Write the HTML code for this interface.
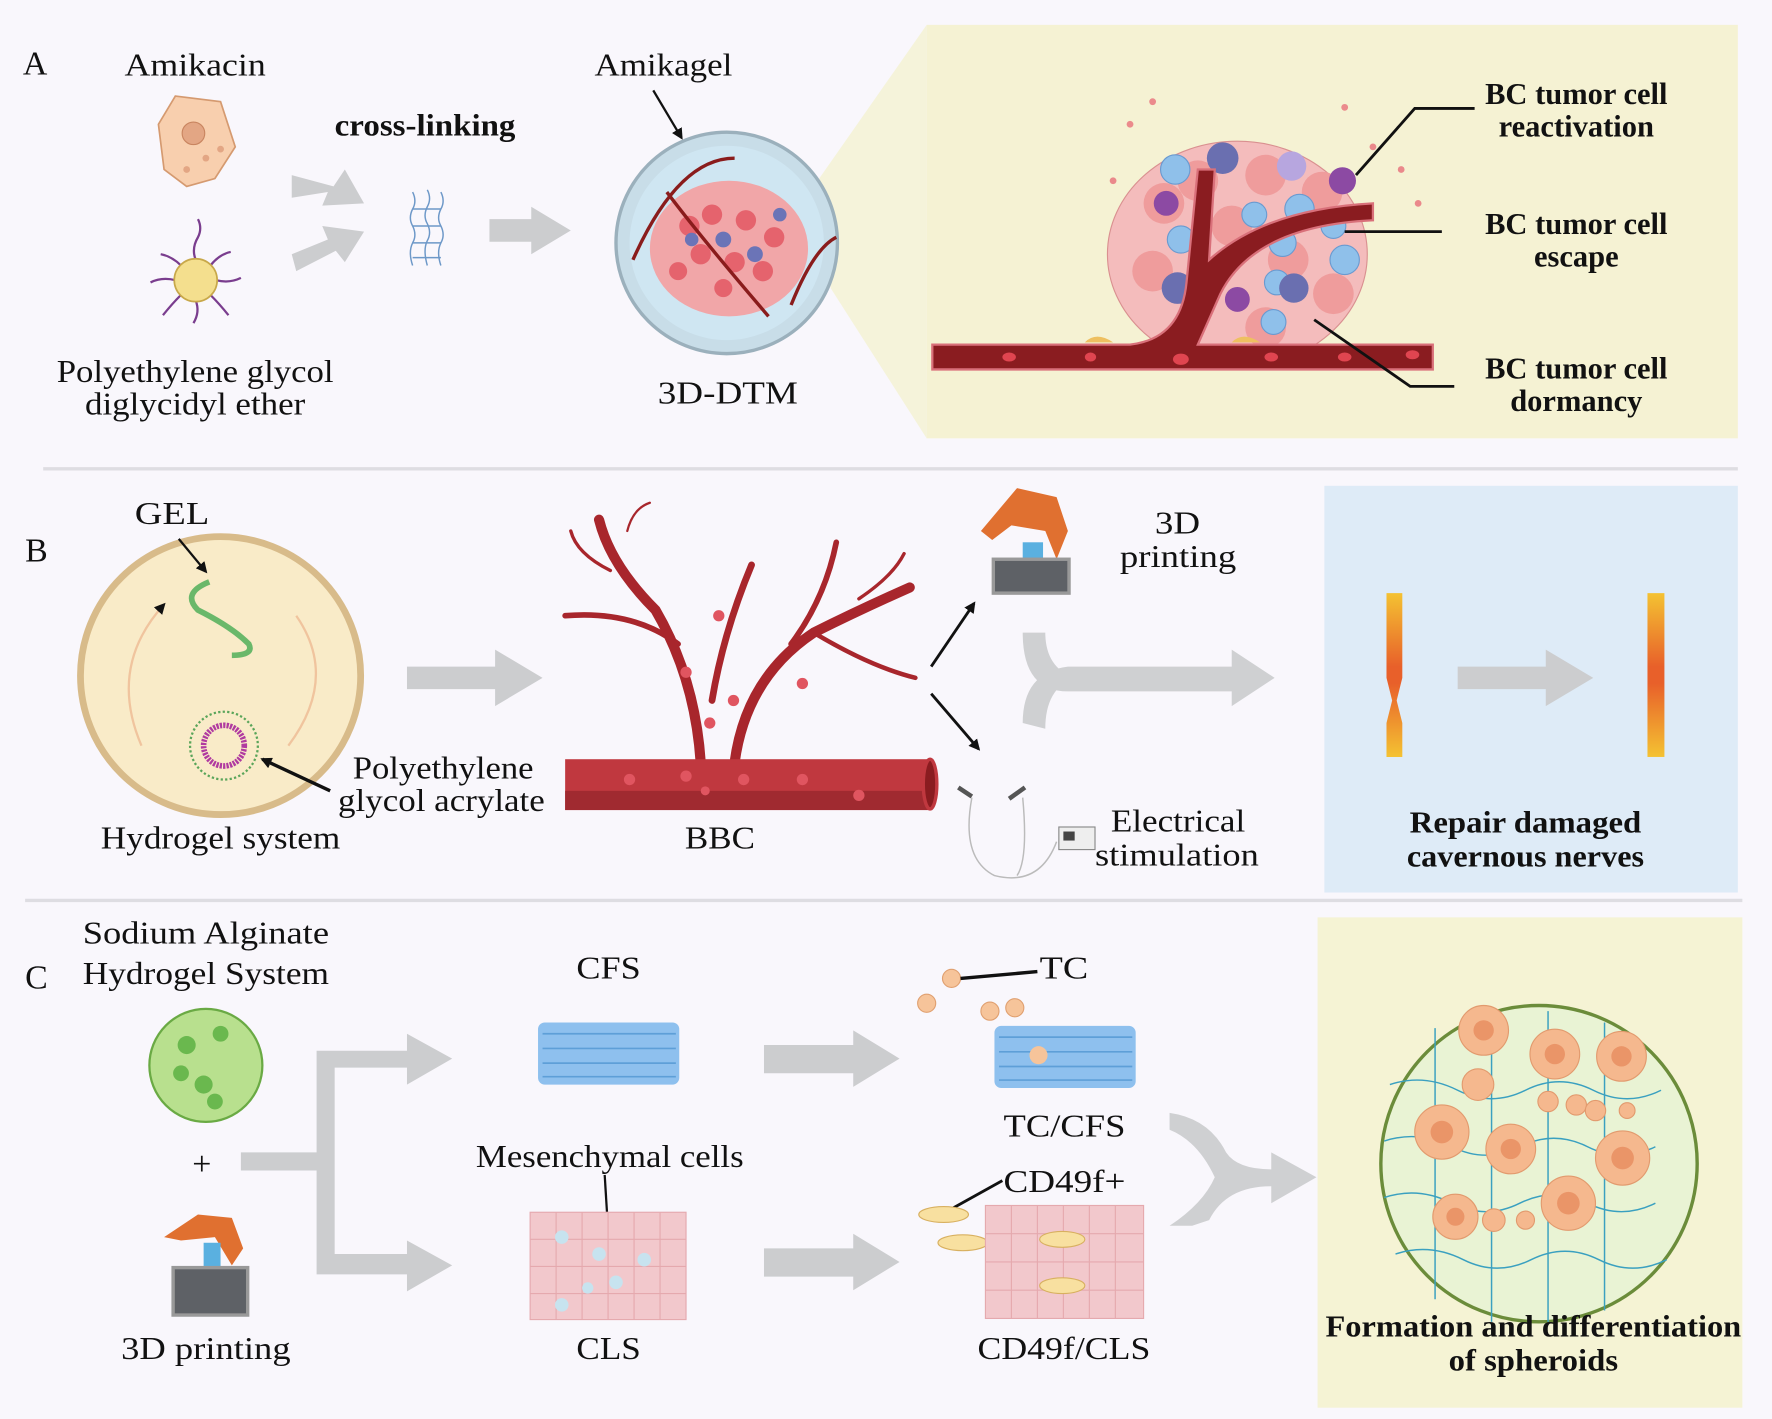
<!DOCTYPE html>
<html><head><meta charset="utf-8"><style>
html,body{margin:0;padding:0;background:#f9f7fc;}
svg{display:block}
text{font-family:"Liberation Serif",serif;fill:#111}
.b{font-weight:bold}
</style></head><body>
<svg width="1772" height="1419" viewBox="0 0 1568 1256" xmlns="http://www.w3.org/2000/svg">
<defs>
<marker id="ah" markerWidth="10" markerHeight="10" refX="8" refY="5" orient="auto" markerUnits="userSpaceOnUse"><path d="M0,0 L10,5 L0,10 z" fill="#111"/></marker>
<linearGradient id="nv1" x1="0" y1="0" x2="0" y2="1"><stop offset="0" stop-color="#f4c232"/><stop offset="0.45" stop-color="#e8602a"/><stop offset="0.55" stop-color="#e8602a"/><stop offset="1" stop-color="#f4c232"/></linearGradient>
</defs>
<rect width="1568" height="1256" fill="#f9f7fc"/>
<!-- Panel A yellow -->
<polygon points="720,165 820,22 820,388 735,255" fill="#f5f3da"/>
<rect x="820" y="22" width="718" height="366" fill="#f5f2d3"/>
<line x1="38" y1="415" x2="1538" y2="415" stroke="#dedde2" stroke-width="3"/>
<line x1="22" y1="797" x2="1542" y2="797" stroke="#dedde2" stroke-width="3"/>
<rect x="1172" y="430" width="366" height="360" fill="#deebf7"/>
<rect x="1166" y="812" width="376" height="434" fill="#f5f3d4"/>

<!-- A -->
<text x="20" y="66" font-size="30">A</text>
<text x="110" y="67" font-size="28" textLength="125" lengthAdjust="spacingAndGlyphs">Amikacin</text>
<path d="M155,85 L195,90 L208,130 L190,158 L165,165 L145,150 L140,110 Z" fill="#f8cfae" stroke="#d59a70" stroke-width="1.5"/>
<circle cx="171" cy="118" r="10" fill="#e3a684" stroke="#c98560"/>
<circle cx="182" cy="140" r="3" fill="#e3a684"/><circle cx="165" cy="150" r="3" fill="#e3a684"/><circle cx="195" cy="132" r="3" fill="#e3a684"/>
<g stroke="#7a3d8e" stroke-width="2" fill="none">
<path d="M173,230 q-4,-10 2,-20 q4,-8 0,-16"/><path d="M173,266 q4,10 -2,20"/><path d="M155,248 q-12,-3 -22,2"/><path d="M191,248 q12,3 22,-2"/>
<path d="M160,235 q-8,-8 -18,-10"/><path d="M186,235 q8,-10 18,-12"/><path d="M160,261 q-8,8 -16,18"/><path d="M186,261 q8,8 16,18"/>
</g>
<circle cx="173" cy="248" r="19" fill="#f4df8e" stroke="#c8a84a" stroke-width="1.5"/>
<text x="50" y="338" font-size="28" textLength="245" lengthAdjust="spacingAndGlyphs">Polyethylene glycol</text>
<text x="75" y="367" font-size="28" textLength="195" lengthAdjust="spacingAndGlyphs">diglycidyl ether</text>
<text x="296" y="120" font-size="27" class="b" textLength="160" lengthAdjust="spacingAndGlyphs">cross-linking</text>
<polygon points="258,155 295,165 305,150 322,180 285,182 290,170 258,175" fill="#cccdcf"/>
<polygon points="258,225 290,212 285,200 322,205 305,232 297,222 262,240" fill="#cccdcf"/>
<g stroke="#6d98c8" stroke-width="1.3" fill="none">
<path d="M365,170 q4,8 0,15 q-4,8 0,15 q4,8 0,15 q-4,8 0,20"/><path d="M378,168 q4,8 0,15 q-4,8 0,15 q4,8 0,15 q-4,8 0,22"/><path d="M390,170 q4,8 0,15 q-4,8 0,15 q4,8 0,15 q-4,8 0,20"/>
<path d="M365,185 h25 M365,200 h25 M365,215 h25 M365,228 h25"/>
</g>
<polygon points="433,194 470,194 470,183 505,204 470,225 470,214 433,214" fill="#cccdcf"/>
<text x="526" y="67" font-size="28" textLength="122" lengthAdjust="spacingAndGlyphs">Amikagel</text>
<line x1="578" y1="80" x2="603" y2="122" stroke="#111" stroke-width="2" marker-end="url(#ah)"/>
<ellipse cx="643" cy="215" rx="98" ry="98" fill="#c8dde8" stroke="#9bb0bc" stroke-width="3"/>
<ellipse cx="643" cy="215" rx="86" ry="86" fill="#cfe6f2"/>
<ellipse cx="645" cy="220" rx="70" ry="60" fill="#f1a6a8"/>
<g fill="#e5636d"><circle cx="610" cy="200" r="9"/><circle cx="630" cy="190" r="9"/><circle cx="660" cy="195" r="9"/><circle cx="685" cy="210" r="9"/><circle cx="620" cy="225" r="9"/><circle cx="650" cy="232" r="9"/><circle cx="675" cy="240" r="9"/><circle cx="600" cy="240" r="8"/><circle cx="640" cy="255" r="8"/></g>
<g fill="#6b74b7"><circle cx="640" cy="212" r="7"/><circle cx="668" cy="225" r="7"/><circle cx="612" cy="212" r="6"/><circle cx="690" cy="190" r="6"/></g>
<g stroke="#8a1c1c" stroke-width="3" fill="none"><path d="M560,230 q40,-90 90,-90"/><path d="M700,270 q20,-50 40,-60"/><path d="M590,170 q30,40 90,110"/></g>
<text x="582" y="357" font-size="28" textLength="124" lengthAdjust="spacingAndGlyphs">3D-DTM</text>

<!-- A zoom tumor -->
<g fill="#e8707a" opacity="0.8"><circle cx="1000" cy="110" r="3"/><circle cx="1020" cy="90" r="3"/><circle cx="1190" cy="95" r="3"/><circle cx="1215" cy="130" r="3"/><circle cx="1240" cy="150" r="3"/><circle cx="985" cy="160" r="3"/><circle cx="1255" cy="180" r="3"/></g>
<ellipse cx="1095" cy="225" rx="115" ry="100" fill="#f4bcbc" stroke="#d99090" stroke-width="1"/>
<g fill="#ef9c9c"><circle cx="1030" cy="180" r="18"/><circle cx="1060" cy="160" r="18"/><circle cx="1120" cy="155" r="18"/><circle cx="1170" cy="170" r="18"/><circle cx="1020" cy="240" r="18"/><circle cx="1060" cy="260" r="18"/><circle cx="1140" cy="230" r="18"/><circle cx="1180" cy="260" r="18"/><circle cx="1120" cy="290" r="18"/><circle cx="1090" cy="200" r="18"/></g>
<g fill="#8fc0ea" stroke="#6a9ad0"><circle cx="1040" cy="150" r="13"/><circle cx="1110" cy="190" r="11"/><circle cx="1150" cy="185" r="13"/><circle cx="1180" cy="200" r="11"/><circle cx="1190" cy="230" r="13"/><circle cx="1130" cy="250" r="11"/><circle cx="1045" cy="212" r="12"/><circle cx="1135" cy="215" r="12"/><circle cx="1127" cy="285" r="11"/></g>
<g fill="#6a6fb0"><circle cx="1082" cy="140" r="14"/><circle cx="1042" cy="255" r="14"/><circle cx="1145" cy="255" r="13"/></g>
<g fill="#8c4aa3"><circle cx="1188" cy="160" r="12"/><circle cx="1032" cy="180" r="11"/><circle cx="1095" cy="265" r="11"/></g>
<circle cx="1143" cy="147" r="13" fill="#b7a6df"/>
<path d="M825,305 L1000,305 Q1045,300 1050,250 L1060,150 L1075,150 L1070,230 Q1120,185 1215,180 L1215,195 Q1110,200 1080,260 L1060,305 L1268,305 L1268,327 L825,327 Z" fill="#8a1c20" stroke="#d9707a" stroke-width="2"/>
<g fill="#e04550"><ellipse cx="893" cy="316" rx="6" ry="4"/><ellipse cx="965" cy="316" rx="5" ry="4"/><ellipse cx="1045" cy="318" rx="7" ry="5"/><ellipse cx="1125" cy="316" rx="6" ry="4"/><ellipse cx="1190" cy="316" rx="6" ry="4"/><ellipse cx="1250" cy="314" rx="6" ry="4"/></g>
<path d="M960,303 q10,-10 25,0 z M1090,303 q10,-10 25,0 z" fill="#eec060"/>
<g stroke="#111" stroke-width="2.5" fill="none">
<polyline points="1200,155 1252,96 1305,96"/><line x1="1190" y1="205" x2="1276" y2="205"/><polyline points="1163,283 1248,342 1287,342"/>
</g>
<g class="b" font-size="27" text-anchor="middle">
<text x="1395" y="92" class="b">BC tumor cell</text><text x="1395" y="121" class="b">reactivation</text>
<text x="1395" y="207" class="b">BC tumor cell</text><text x="1395" y="236" class="b">escape</text>
<text x="1395" y="335" class="b">BC tumor cell</text><text x="1395" y="364" class="b">dormancy</text>
</g>

<!-- B -->
<text x="22" y="497" font-size="30">B</text>
<text x="119" y="464" font-size="28" textLength="66" lengthAdjust="spacingAndGlyphs">GEL</text>
<ellipse cx="195" cy="598" rx="124" ry="123" fill="#f9ebc8" stroke="#d8bb8a" stroke-width="6"/>
<path d="M125,660 Q95,590 145,535" stroke="#f0c49e" stroke-width="2" fill="none" marker-end="url(#ah)"/>
<path d="M262,545 Q300,600 255,660" stroke="#f0c49e" stroke-width="2" fill="none"/>
<path d="M185,515 q-25,10 -10,25 q30,15 45,30 q5,10 -15,10" stroke="#6ab86a" stroke-width="5" fill="none"/>
<line x1="158" y1="477" x2="182" y2="506" stroke="#111" stroke-width="2" marker-end="url(#ah)"/>
<circle cx="198" cy="660" r="30" fill="none" stroke="#5aa55a" stroke-width="2" stroke-dasharray="2 2"/>
<circle cx="198" cy="660" r="18" fill="none" stroke="#b03aa0" stroke-width="5" stroke-dasharray="2 1"/>
<line x1="292" y1="700" x2="232" y2="672" stroke="#111" stroke-width="3" marker-end="url(#ah)"/>
<text x="312" y="689" font-size="28" textLength="160" lengthAdjust="spacingAndGlyphs">Polyethylene</text>
<text x="299" y="718" font-size="28" textLength="183" lengthAdjust="spacingAndGlyphs">glycol acrylate</text>
<text x="89" y="751" font-size="28" textLength="212" lengthAdjust="spacingAndGlyphs">Hydrogel system</text>
<polygon points="360,590 438,590 438,575 480,600 438,625 438,610 360,610" fill="#cccdcf"/>
<g stroke="#a8262c" fill="none" stroke-linecap="round">
<path d="M620,675 Q615,600 580,540 Q540,500 530,460" stroke-width="9"/>
<path d="M650,675 Q660,600 720,560 Q760,540 805,520" stroke-width="9"/>
<path d="M630,620 Q640,560 665,500" stroke-width="6"/>
<path d="M600,570 Q560,540 500,545" stroke-width="5"/>
<path d="M700,570 Q730,530 740,480" stroke-width="5"/>
<path d="M720,560 Q770,590 810,600" stroke-width="4"/>
<path d="M540,505 Q510,490 505,470" stroke-width="3"/>
<path d="M555,470 Q560,450 575,445" stroke-width="2"/>
<path d="M760,530 Q790,510 800,490" stroke-width="3"/>
</g>
<g fill="#e05560"><circle cx="607" cy="595" r="5"/><circle cx="636" cy="545" r="5"/><circle cx="649" cy="620" r="5"/><circle cx="710" cy="605" r="5"/><circle cx="628" cy="640" r="5"/></g>
<rect x="500" y="672" width="325" height="45" fill="#c0383f"/>
<rect x="500" y="700" width="325" height="17" fill="#a02a30"/>
<ellipse cx="823" cy="694" rx="6" ry="22" fill="#8a1c20" stroke="#c0383f" stroke-width="3"/>
<g fill="#e05560"><circle cx="557" cy="690" r="5"/><circle cx="607" cy="687" r="5"/><circle cx="624" cy="700" r="4"/><circle cx="658" cy="690" r="5"/><circle cx="710" cy="690" r="5"/><circle cx="760" cy="704" r="5"/></g>
<text x="606" y="751" font-size="28" textLength="62" lengthAdjust="spacingAndGlyphs">BBC</text>
<line x1="824" y1="590" x2="862" y2="534" stroke="#111" stroke-width="2.5" marker-end="url(#ah)"/>
<line x1="824" y1="614" x2="866" y2="663" stroke="#111" stroke-width="2.5" marker-end="url(#ah)"/>
<!-- printer B -->
<polygon points="868,470 900,432 935,440 945,470 935,495 925,470 895,465 878,478" fill="#e07030"/>
<rect x="905" y="480" width="18" height="22" fill="#5ab0e0"/>
<rect x="879" y="495" width="67" height="30" fill="#5e6166" stroke="#999" stroke-width="3"/>
<text x="1022" y="472" font-size="28" textLength="40" lengthAdjust="spacingAndGlyphs">3D</text>
<text x="991" y="502" font-size="28" textLength="103" lengthAdjust="spacingAndGlyphs">printing</text>
<path d="M905,640 Q905,595 945,590 L1090,590 L1090,575 L1128,600 L1090,625 L1090,612 L945,612 Q905,612 905,560 L925,560 Q925,590 950,600 Q925,610 925,645 Z" fill="#cfd0d2"/>
<path d="M860,706 Q850,760 880,775 Q920,785 935,745 M905,706 Q910,760 900,775" stroke="#bbb" stroke-width="1.3" fill="none"/>
<path d="M848,697 l12,8 M893,707 l14,-10" stroke="#555" stroke-width="4"/>
<rect x="937" y="732" width="32" height="20" fill="#eee" stroke="#888"/><rect x="941" y="736" width="10" height="8" fill="#444"/>
<text x="983" y="736" font-size="28" textLength="119" lengthAdjust="spacingAndGlyphs">Electrical</text>
<text x="969" y="766" font-size="28" textLength="145" lengthAdjust="spacingAndGlyphs">stimulation</text>
<path d="M1227,525 h14 v75 l-5,20 l5,20 v30 h-14 v-30 l5,-20 l-5,-20 z" fill="url(#nv1)"/>
<rect x="1458" y="525" width="15" height="145" fill="url(#nv1)"/>
<polygon points="1290,590 1368,590 1368,575 1410,600 1368,625 1368,610 1290,610" fill="#cccdcf"/>
<text x="1350" y="737" font-size="27" class="b" text-anchor="middle" textLength="205" lengthAdjust="spacingAndGlyphs">Repair damaged</text>
<text x="1350" y="767" font-size="27" class="b" text-anchor="middle" textLength="210" lengthAdjust="spacingAndGlyphs">cavernous nerves</text>

<!-- C -->
<text x="22" y="875" font-size="30">C</text>
<text x="73" y="835" font-size="28" textLength="218" lengthAdjust="spacingAndGlyphs">Sodium Alginate</text>
<text x="73" y="871" font-size="28" textLength="218" lengthAdjust="spacingAndGlyphs">Hydrogel System</text>
<ellipse cx="182" cy="943" rx="50" ry="50" fill="#b8e08e" stroke="#6aaa44" stroke-width="2"/>
<g fill="#6ab84e"><circle cx="165" cy="925" r="8"/><circle cx="195" cy="915" r="7"/><circle cx="180" cy="960" r="8"/><circle cx="160" cy="950" r="7"/><circle cx="190" cy="975" r="7"/></g>
<text x="170" y="1040" font-size="30">+</text>
<polygon points="213,1020 280,1020 280,930 360,930 360,915 400,937 360,960 360,945 296,945 296,1110 360,1110 360,1098 400,1120 360,1143 360,1128 280,1128 280,1036 213,1036" fill="#cccdcf"/>
<polygon points="145,1095 175,1075 205,1078 215,1105 205,1120 190,1095 160,1098" fill="#e07030"/>
<rect x="180" y="1100" width="15" height="22" fill="#5ab0e0"/>
<rect x="153" y="1122" width="66" height="42" fill="#5e6166" stroke="#999" stroke-width="3"/>
<text x="107" y="1203" font-size="28" textLength="150" lengthAdjust="spacingAndGlyphs">3D printing</text>
<text x="510" y="866" font-size="28" textLength="57" lengthAdjust="spacingAndGlyphs">CFS</text>
<g><rect x="476" y="905" width="125" height="55" rx="6" fill="#8ec0ee"/><g stroke="#5e9fd8" stroke-width="1.5"><path d="M480,915 h118 M480,928 h118 M480,941 h118 M480,953 h118"/></g></g>
<polygon points="676,925 755,925 755,912 796,937 755,962 755,950 676,950" fill="#cccdcf"/>
<circle cx="842" cy="866" r="8" fill="#f6c49a" stroke="#e0a070"/><circle cx="820" cy="888" r="8" fill="#f6c49a" stroke="#e0a070"/><circle cx="876" cy="895" r="8" fill="#f6c49a" stroke="#e0a070"/><circle cx="898" cy="892" r="8" fill="#f6c49a" stroke="#e0a070"/>
<line x1="850" y1="866" x2="918" y2="860" stroke="#111" stroke-width="3"/>
<text x="920" y="866" font-size="28" textLength="43" lengthAdjust="spacingAndGlyphs">TC</text>
<rect x="880" y="908" width="125" height="55" rx="6" fill="#8ec0ee"/><g stroke="#5e9fd8" stroke-width="1.5"><path d="M884,918 h118 M884,931 h118 M884,944 h118 M884,956 h118"/></g>
<circle cx="919" cy="934" r="8" fill="#f6c49a"/>
<text x="888" y="1006" font-size="28" textLength="108" lengthAdjust="spacingAndGlyphs">TC/CFS</text>
<text x="421" y="1033" font-size="28" textLength="237" lengthAdjust="spacingAndGlyphs">Mesenchymal cells</text>
<line x1="535" y1="1040" x2="539" y2="1105" stroke="#111" stroke-width="2"/>
<rect x="469" y="1073" width="138" height="95" fill="#f2c8cc" stroke="#e5a9ae"/>
<g stroke="#e5a9ae"><path d="M492,1073 v95 M515,1073 v95 M538,1073 v95 M561,1073 v95 M584,1073 v95 M469,1097 h138 M469,1121 h138 M469,1145 h138"/></g>
<g fill="#c7e3ef"><circle cx="497" cy="1095" r="6"/><circle cx="530" cy="1110" r="6"/><circle cx="570" cy="1115" r="6"/><circle cx="520" cy="1140" r="5"/><circle cx="545" cy="1135" r="6"/><circle cx="497" cy="1155" r="6"/></g>
<text x="510" y="1203" font-size="28" textLength="57" lengthAdjust="spacingAndGlyphs">CLS</text>
<polygon points="676,1105 755,1105 755,1092 796,1117 755,1142 755,1130 676,1130" fill="#cccdcf"/>
<line x1="842" y1="1070" x2="887" y2="1045" stroke="#111" stroke-width="2.5"/>
<text x="888" y="1055" font-size="28" textLength="108" lengthAdjust="spacingAndGlyphs">CD49f+</text>
<ellipse cx="835" cy="1075" rx="22" ry="7" fill="#f8e0a0" stroke="#d8b060"/><ellipse cx="852" cy="1100" rx="22" ry="7" fill="#f8e0a0" stroke="#d8b060"/>
<rect x="872" y="1067" width="140" height="100" fill="#f2c8cc" stroke="#e5a9ae"/>
<g stroke="#e5a9ae"><path d="M895,1067 v100 M918,1067 v100 M941,1067 v100 M964,1067 v100 M987,1067 v100 M872,1092 h140 M872,1117 h140 M872,1142 h140"/></g>
<ellipse cx="940" cy="1097" rx="20" ry="7" fill="#f8e0a0" stroke="#d8b060"/><ellipse cx="940" cy="1138" rx="20" ry="7" fill="#f8e0a0" stroke="#d8b060"/>
<text x="865" y="1203" font-size="28" textLength="153" lengthAdjust="spacingAndGlyphs">CD49f/CLS</text>
<path d="M1035,985 Q1070,990 1085,1020 Q1095,1035 1125,1035 L1125,1020 L1165,1042 L1125,1065 L1125,1050 Q1085,1050 1070,1080 L1055,1085 L1035,1085 Q1065,1065 1075,1042 Q1060,1010 1035,1000 Z" fill="#cfd0d2"/>
<ellipse cx="1362" cy="1030" rx="140" ry="140" fill="#e9f3d4" stroke="#6b8c3a" stroke-width="3"/>
<g fill="none" stroke="#3aa0c0" stroke-width="1.3"><path d="M1230,960 q30,-10 60,5 t60,0 t60,0 t60,0"/><path d="M1225,1010 q30,-10 60,5 t60,0 t60,0 t60,0"/><path d="M1225,1060 q30,-10 60,5 t60,0 t60,0 t60,0"/><path d="M1235,1110 q30,-10 60,5 t60,0 t60,0 t60,0"/><path d="M1270,910 v240 M1320,900 v270 M1370,895 v275 M1420,905 v255"/></g>
<g fill="#f5b88e" stroke="#e29a6e"><circle cx="1313" cy="912" r="22"/><circle cx="1376" cy="933" r="22"/><circle cx="1435" cy="935" r="22"/><circle cx="1308" cy="960" r="14"/><circle cx="1276" cy="1002" r="24"/><circle cx="1337" cy="1017" r="22"/><circle cx="1436" cy="1025" r="24"/><circle cx="1288" cy="1077" r="20"/><circle cx="1388" cy="1065" r="24"/><circle cx="1322" cy="1080" r="10"/><circle cx="1350" cy="1080" r="8"/><circle cx="1370" cy="975" r="9"/><circle cx="1395" cy="978" r="9"/><circle cx="1412" cy="983" r="9"/><circle cx="1440" cy="983" r="7"/></g>
<g fill="#ea9568"><circle cx="1313" cy="912" r="9"/><circle cx="1376" cy="933" r="9"/><circle cx="1435" cy="935" r="9"/><circle cx="1276" cy="1002" r="10"/><circle cx="1337" cy="1017" r="9"/><circle cx="1436" cy="1025" r="10"/><circle cx="1288" cy="1077" r="8"/><circle cx="1388" cy="1065" r="10"/></g>
<text x="1357" y="1183" font-size="27" class="b" text-anchor="middle" textLength="368" lengthAdjust="spacingAndGlyphs">Formation and differentiation</text>
<text x="1357" y="1213" font-size="27" class="b" text-anchor="middle" textLength="150" lengthAdjust="spacingAndGlyphs">of spheroids</text>
</svg>
</body></html>
